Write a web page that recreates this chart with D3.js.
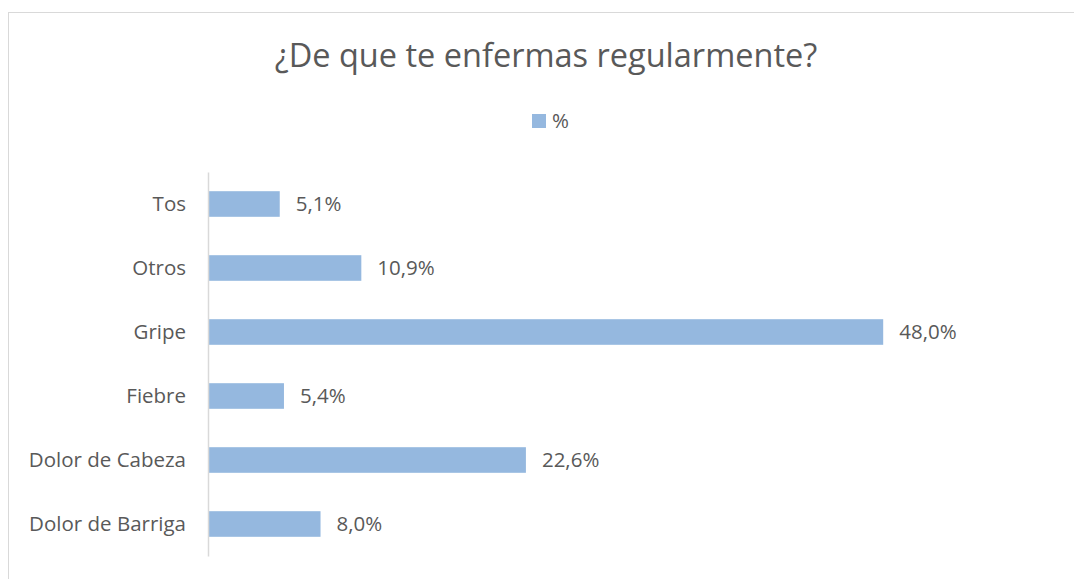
<!DOCTYPE html>
<html>
<head>
<meta charset="utf-8">
<script src="https://cdn.jsdelivr.net/npm/d3@7"></script>
<style>
	body { margin: 0; background: #fff; }
	text { font-family: "Open Sans", sans-serif; fill: #595959; }
</style>
</head>
<body>
<script>
var width = 1074,
	height = 579;

// data, top to bottom as drawn
var categories = ['Tos', 'Otros', 'Gripe', 'Fiebre', 'Dolor de Cabeza', 'Dolor de Barriga'];
var values = [5.1, 10.9, 48.0, 5.4, 22.6, 8.0];
var seriesName = '%';
var title = '¿De que te enfermas regularmente?';

var barColor = '#95b8df';

var svg = d3.select('body')
	.append('svg')
	.attr('width', width)
	.attr('height', height);

// chart frame
svg.append('rect')
	.attr('x', 8.5)
	.attr('y', 12.5)
	.attr('width', 1100)
	.attr('height', 600)
	.attr('fill', 'none')
	.attr('stroke', '#d9d9d9');

svg.append('text')
	.attr('x', 546)
	.attr('y', 67)
	.attr('text-anchor', 'middle')
	.style('font-size', '32.5px')
	.text(title);

// legend
var legend = svg.append('g').attr('transform', 'translate(532,114)');
legend.append('rect')
	.attr('width', 14)
	.attr('height', 14)
	.attr('fill', barColor);
legend.append('text')
	.attr('x', 20)
	.attr('y', 14)
	.style('font-size', '20.5px')
	.text(seriesName);

var x = d3.scaleLinear()
	.domain([0, 60])
	.range([208, 1052]);

var y = d3.scaleBand()
	.domain(categories)
	.range([172, 556])
	.paddingInner(0.6)
	.paddingOuter(0.3);

svg.selectAll('rect.bar')
	.data(values)
	.enter()
	.append('rect')
	.attr('class', 'bar')
	.attr('x', x(0))
	.attr('y', function(d, i) { return y(categories[i]); })
	.attr('width', function(d) { return x(d) - x(0); })
	.attr('height', y.bandwidth())
	.attr('fill', barColor);

svg.selectAll('text.val')
	.data(values)
	.enter()
	.append('text')
	.attr('class', 'val')
	.attr('x', function(d) { return x(d) + 16; })
	.attr('y', function(d, i) { return y(categories[i]) + y.bandwidth() / 2; })
	.attr('dy', '0.35em')
	.style('font-size', '20.5px')
	.text(function(d) { return d.toFixed(1).replace('.', ',') + '%'; });

var yAxis = svg.append('g')
	.attr('transform', 'translate(' + x(0) + ',0)')
	.call(d3.axisLeft(y).tickSize(0).tickPadding(22));

yAxis.select('.domain')
	.attr('stroke', '#d9d9d9')
	.attr('stroke-width', 1.5);
yAxis.selectAll('text')
	.style('font-size', '20.5px')
	.style('font-family', '"Open Sans", sans-serif')
	.attr('fill', '#595959');
</script>
</body>
</html>
